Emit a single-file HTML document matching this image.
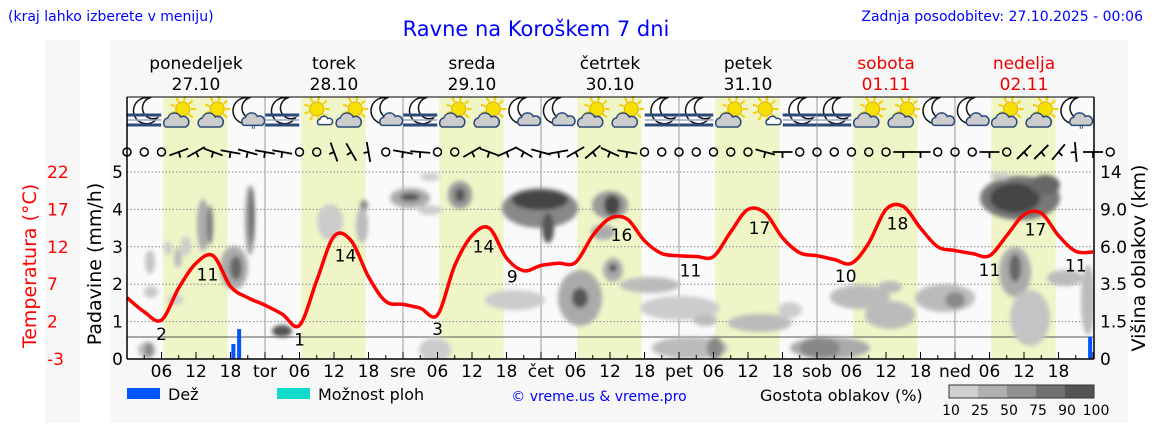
<!DOCTYPE html>
<html><head><meta charset="utf-8"><style>
body{margin:0;width:1152px;height:443px;background:#fff;overflow:hidden;font-family:"DejaVu Sans","Liberation Sans",sans-serif}
svg text{font-family:"DejaVu Sans","Liberation Sans",sans-serif}
</style></head><body>
<svg id="chart" width="1152" height="443" xmlns="http://www.w3.org/2000/svg">
<defs><filter id="blur" x="-50%" y="-50%" width="200%" height="200%"><feGaussianBlur stdDeviation="2"/></filter>
<clipPath id="plotclip"><rect x="127" y="97" width="967" height="262"/></clipPath></defs>
<rect x="45" y="40" width="35" height="383" fill="#f7f7f7"/>
<rect x="110" y="40" width="1018" height="383" fill="#f7f7f7"/>
<rect x="127" y="97" width="967" height="262" fill="#fafafa"/>
<g id="bands"></g>
<g id="grid"></g>
<g id="clouds" clip-path="url(#plotclip)" filter="url(#blur)"></g>
<g id="icons"></g>
<g id="wind"></g>
<g id="bars"></g>
<path id="templine" fill="none" stroke="#f00" stroke-width="3.5" stroke-linejoin="round"/>
<g id="labels"></g>
<g id="axes"></g>
<text x="8" y="21" font-size="14" fill="#00f">(kraj lahko izberete v meniju)</text>
<text x="536" y="36" font-size="21" fill="#00f" text-anchor="middle">Ravne na Koroškem 7 dni</text>
<text x="1143" y="21" font-size="14" fill="#00f" text-anchor="end">Zadnja posodobitev: 27.10.2025 - 00:06</text>
<text transform="translate(36,266) rotate(-90)" font-size="19" fill="#f00" text-anchor="middle">Temperatura (°C)</text>
<text transform="translate(101,264) rotate(-90)" font-size="19" fill="#000" text-anchor="middle">Padavine (mm/h)</text>
<text transform="translate(1145,258) rotate(-90)" font-size="19" fill="#000" text-anchor="middle">Višina oblakov (km)</text>
<rect x="127" y="388" width="33" height="11" fill="#0055ff"/>
<text x="168" y="400" font-size="16">Dež</text>
<rect x="277" y="388" width="33" height="11" fill="#11dccc"/>
<text x="318" y="400" font-size="16">Možnost ploh</text>
<text x="599" y="401" font-size="14" fill="#00f" text-anchor="middle">© vreme.us &amp; vreme.pro</text>
<text x="760" y="401" font-size="16">Gostota oblakov (%)</text>
<g id="scale"></g>
</svg>
<script>
const NS='http://www.w3.org/2000/svg';
const tempHours=[0,3,6,9,12,15,18,21,24,27,30,33,36,39,42,45,48,51,54,57,60,63,66,69,72,75,78,81,84,87,90,93,96,99,102,105,108,111,114,117,120,123,126,129,132,135,138,141,144,147,150,153,156,159,162,165,168];
const tempValues=[5.2,3.3,2.2,6.5,9.8,10.8,6.7,5.2,4.2,3.0,1.5,7.5,13.4,12.8,8.0,4.7,4.3,3.8,2.9,9.5,13.5,14.5,10.5,8.8,9.5,9.8,9.9,13.5,15.8,15.7,12.8,11.1,10.8,10.7,10.7,14.0,17.0,16.5,13.2,11.2,10.8,10.3,9.8,12.5,17.0,17.4,14.5,12.0,11.5,11.1,10.8,13.5,16.3,16.5,13.5,11.4,11.3];
const extremeHours=[6,14,30,38,54,62,67,86,98,110,125,134,150,158,165];
const extremeLabels=['2','11','1','14','3','14','9','16','11','17','10','18','11','17','11'];
const extremeOffsets=[-1,1,-1,1,-1,1,-1,1,-1,1,-1,1,-1,1,-1];
const rainHours=[18.5,19.5,167.5];
const rainValues=[0.4,0.8,0.6];
const dayNames=['ponedeljek','torek','sreda','četrtek','petek','sobota','nedelja'];
const dayDates=['27.10','28.10','29.10','30.10','31.10','01.11','02.11'];
const dayAbbr=['','tor','sre','čet','pet','sob','ned'];
const precipTicks=[0,1,2,3,4,5];
const tempTicks=['-3','2','7','12','17','22'];
const heightTicks=['0','1.5','3.5','6.0','9.0','14'];
const iconTypes='FSSRFsSMFSSMMSSFFSsFFSSMMSSR'.split('');
const windCodes='ooobbbbbbboobbbobboobbbbbbbbbbooooooobboooooobbooobobbbbbo'.split('');
const windAngles=[0,0,0,-20,-30,20,10,15,10,10,0,0,70,60,80,0,10,5,0,0,-30,20,-25,30,15,-10,-30,-40,25,10,0,0,0,0,0,0,20,15,0,0,0,0,0,10,-40,0,0,0,0,15,0,-50,-45,-45,-50,85,0];

const X0=127,HW=5.75,Y0=359,PU=37.4;
const xh=h=>X0+h*HW;
const yp=v=>Y0-v*PU;
const yt=t=>Y0-(t+3)*7.48;
function el(t,a,p){const e=document.createElementNS(NS,t);for(const k in a)e.setAttribute(k,a[k]);(p||document.getElementById('chart')).appendChild(e);return e;}

const bands=document.getElementById('bands');
for(let d=0;d<7;d++){
  const b=el('rect',{x:xh(d*24+6.3),y:97,width:11.2*HW,height:262,fill:'#f0f5c8'},bands);
  
  
}
const grid=document.getElementById('grid');
for(let v=1;v<=5;v++){
  const g=el('line',{x1:127,x2:1094,y1:yp(v),y2:yp(v),stroke:'#888','stroke-dasharray':'1.5,2','stroke-width':1},grid);
  
  
}
el('line',{x1:127,x2:1094,y1:337,y2:337,stroke:'#555','stroke-width':1},grid);
for(let d=1;d<7;d++){
  const l=el('line',{x1:xh(d*24),x2:xh(d*24),y1:97,y2:359,stroke:'#999','stroke-width':1},grid);
  
  
}

const cl=document.getElementById('clouds');
const blobs=[[150,262,5,12,'#c4c4c4'],[151,292,7,6,'#c8c8c8'],[168,248,4,7,'#ccc'],[178,258,4,10,'#bbb'],[186,246,5,10,'#ccc'],[203,225,6,26,'#aaa'],[210,225,3,20,'#777'],[250,220,5,35,'#999'],[252,215,2,28,'#555'],[234,268,14,22,'#aaa'],[236,268,6,12,'#666'],[175,300,8,5,'#ccc'],[147,350,9,8,'#bbb'],[149,350,4,8,'#888'],[282,331,10,6,'#555'],[330,222,13,18,'#ccc'],[362,225,6,18,'#bbb'],[364,205,4,5,'#888'],[410,198,20,10,'#aaa'],[410,197,10,4,'#555'],[460,195,12,14,'#999'],[460,195,5,7,'#555'],[430,177,10,4,'#ccc'],[430,210,12,5,'#ccc'],[540,208,38,20,'#888'],[540,200,28,10,'#444'],[548,228,6,15,'#555'],[610,205,18,14,'#999'],[612,205,8,10,'#444'],[603,232,12,8,'#aaa'],[580,298,22,28,'#aaa'],[580,298,8,10,'#555'],[613,270,10,12,'#aaa'],[613,268,4,4,'#555'],[515,300,30,10,'#ccc'],[650,285,30,8,'#bbb'],[680,308,40,12,'#ccc'],[705,320,12,6,'#bbb'],[760,323,32,9,'#bbb'],[790,310,12,8,'#ccc'],[435,350,16,12,'#ccc'],[690,348,38,11,'#bbb'],[715,348,8,11,'#888'],[830,348,40,11,'#aaa'],[820,348,20,11,'#888'],[860,297,30,12,'#bbb'],[890,315,25,14,'#bbb'],[890,287,12,6,'#bbb'],[945,298,30,14,'#bbb'],[955,300,10,8,'#888'],[1015,272,16,25,'#aaa'],[1015,268,6,14,'#666'],[1030,318,20,28,'#c4c4c4'],[1065,278,18,8,'#bbb'],[1088,300,7,35,'#bbb'],[1020,198,40,22,'#777'],[1015,198,25,15,'#444'],[1045,185,15,10,'#666'],[1000,176,10,4,'#ccc']];
blobs.forEach(b=>{const e=el('ellipse',{cx:b[0],cy:b[1],rx:b[2],ry:b[3],fill:b[4]},cl);
  
  });

const ic=document.getElementById('icons');
function cloud(g,x,y,s,fill){el('path',{d:`M${x-10*s},${y+6*s} a${5*s},${5*s} 0 0 1 ${2*s},${-9*s} a${7*s},${7*s} 0 0 1 ${13*s},${-1*s} a${5*s},${5*s} 0 0 1 ${5*s},${10*s} z`,fill:fill,stroke:'#2a4a78','stroke-width':1.5},g);}
function moon(g,x,y){el('path',{d:`M${x+3},${y-13} a13,13 0 1 0 8,20 a10,10 0 1 1 -8,-20 z`,fill:'#fff',stroke:'#111','stroke-width':1.5},g);}
function sun(g,x,y){for(let a=0;a<360;a+=40){const r=a*Math.PI/180;el('line',{x1:x+Math.cos(r)*8,y1:y+Math.sin(r)*8,x2:x+Math.cos(r)*13,y2:y+Math.sin(r)*13,stroke:'#f5d000','stroke-width':2},g);}el('circle',{cx:x,cy:y,r:7,fill:'#f5e000',stroke:'#e0b000'},g);}
iconTypes.forEach((t,i)=>{
  const x=xh(3+6*i),y=113;
  const g=el('g',{},ic);
  
  
  if(t==='F'){moon(g,x+2,y-2);for(const dy of [0,5,10]){el('line',{x1:x-17,x2:x+17,y1:y+2+dy,y2:y+2+dy,stroke:dy==5?'#9ab':'#2a4a78','stroke-width':dy==5?1.5:3},g);}}
  else if(t==='S'){sun(g,x+4,y-4);cloud(g,x-3,y+8,1,'#ccc');}
  else if(t==='s'){sun(g,x,y-4);cloud(g,x+8,y+8,0.6,'#fff');}
  else {moon(g,x-2,y-2);cloud(g,x+5,y+7,0.9,'#ccc');if(t==='R'){el('text',{x:x+3,y:y+21,'font-size':11,fill:'#2a4a78'},g).textContent='"';}}
});

const wd=document.getElementById('wind');
windCodes.forEach((c,i)=>{
  const x=127+i*17.25,y=152;
  let e;
  if(c==='o'){e=el('circle',{cx:x,cy:y,r:4,fill:'none',stroke:'#000','stroke-width':1.5},wd);}
  else{const r=windAngles[i]*Math.PI/180,dx=Math.cos(r)*10,dy=Math.sin(r)*10;
    e=el('path',{d:`M${x-dx},${y-dy}L${x+dx},${y+dy}M${x},${y}l${-dy*0.5},${dx*0.6}`,stroke:'#000','stroke-width':1.8,fill:'none'},wd);}
  
  
});

const bg=document.getElementById('bars');
rainHours.forEach((h,i)=>{const b=el('rect',{x:xh(h)-2,y:yp(rainValues[i]),width:4,height:rainValues[i]*PU,fill:'#0055ff'},bg);
  
  });

const pts=tempHours.map((h,i)=>[xh(h),yt(tempValues[i])]);
let d=`M${pts[0][0]},${pts[0][1]}`;
for(let i=0;i<pts.length-1;i++){const p0=pts[Math.max(0,i-1)],p1=pts[i],p2=pts[i+1],p3=pts[Math.min(pts.length-1,i+2)];
  d+=`C${p1[0]+(p2[0]-p0[0])/6},${p1[1]+(p2[1]-p0[1])/6} ${p2[0]-(p3[0]-p1[0])/6},${p2[1]-(p3[1]-p1[1])/6} ${p2[0]},${p2[1]}`;}
document.getElementById('templine').setAttribute('d',d);
function tempAt(h){for(let i=0;i<tempHours.length-1;i++){if(h<=tempHours[i+1]){const f=(h-tempHours[i])/(tempHours[i+1]-tempHours[i]);return tempValues[i]+f*(tempValues[i+1]-tempValues[i]);}}return tempValues[tempValues.length-1];}
const lb=document.getElementById('labels');
extremeHours.forEach((h,i)=>{const y=yt(tempAt(h))+(extremeOffsets[i]>0?22:20);
  const t=el('text',{x:xh(h),y:y,'font-size':17,'text-anchor':'middle',fill:'#000'},lb);t.textContent=extremeLabels[i];
  
  });

const ax=document.getElementById('axes');
el('line',{x1:127,x2:127,y1:97,y2:359,stroke:'#000','stroke-width':1.5},ax);
el('line',{x1:1094,x2:1094,y1:97,y2:359,stroke:'#000','stroke-width':1.5},ax);
el('line',{x1:127,x2:1094,y1:359,y2:359,stroke:'#000','stroke-width':1.5},ax);
el('line',{x1:127,x2:1094,y1:97,y2:97,stroke:'#000','stroke-width':1},ax);
precipTicks.forEach((v,i)=>{
  const t=el('text',{x:123,y:yp(v)+6,'font-size':17,'text-anchor':'end'},ax);t.textContent=v;
  
  
  const t2=el('text',{x:47,y:yp(v)+6,'font-size':17,fill:'#f00'},ax);t2.textContent=tempTicks[i];
  
  
  const t3=el('text',{x:1100,y:yp(v)+6,'font-size':17},ax);t3.textContent=heightTicks[i];
  
  
});
for(let h=0;h<=168;h+=3){el('line',{x1:xh(h),x2:xh(h),y1:359,y2:h%6?355:352,stroke:'#000'},ax);}
for(let dd=0;dd<7;dd++){
  for(const hh of [0,6,12,18]){
    const lab=hh===0?dayAbbr[dd]:String(hh).padStart(2,'0');if(!lab)continue;
    const t=el('text',{x:xh(dd*24+hh),y:377,'font-size':17,'text-anchor':'middle'},ax);t.textContent=lab;
    
    
  }
  const col=dd>=5?'#e00':'#000';
  const n=el('text',{x:xh(dd*24+12),y:69,'font-size':17,'text-anchor':'middle',fill:col},ax);n.textContent=dayNames[dd];
  
  
  const dt=el('text',{x:xh(dd*24+12),y:90,'font-size':17,'text-anchor':'middle',fill:col},ax);dt.textContent=dayDates[dd];
  
  
}
const sc=document.getElementById('scale');
const scaleLabels=['10','25','50','75','90','100'];
const scaleColors=['#d0d0d0','#b0b0b0','#909090','#707070','#555'];
scaleColors.forEach((c,i)=>{const r=el('rect',{x:949+i*29,y:385,width:29,height:13,fill:c},sc);
  
  });
el('rect',{x:949,y:385,width:145,height:13,fill:'none',stroke:'#333'},sc);
scaleLabels.forEach((l,i)=>{const t=el('text',{x:951+i*29,y:415,'font-size':14,'text-anchor':'middle'},sc);t.textContent=l;
  
  });
</script>
</body></html>
